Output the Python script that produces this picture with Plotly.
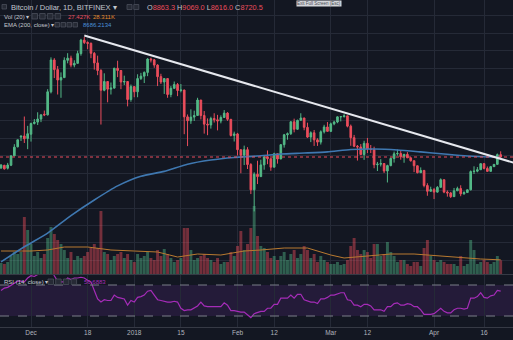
import math
import pandas as pd
import plotly.graph_objects as go

W, H = 513, 340

# ---- daily bars, BTC/USD (Bitfinex), 22 Nov 2017 .. 21 Apr 2018 ----
dates = pd.date_range("2017-11-22", "2018-04-21", freq="D")

opens = [8077, 8233, 8074, 8241, 8789, 9352, 10000, 10078, 9907, 10198,
         10978, 11083, 11316, 11700, 11650, 13650, 16990, 15900, 14800, 15050,
         16950, 17200, 16400, 16600, 17750, 19480, 19150, 19050, 17780, 16650,
         15800, 13800, 14650, 13900, 14000, 16050, 15800, 14600, 14650, 12950,
         14150, 13650, 14950, 15200, 15600, 17100, 17000, 16400, 15150, 14600,
         14950, 13400, 13980, 14350, 13770, 13820, 11490, 11190, 11470, 11600,
         12900, 11600, 10930, 10870, 11360, 11260, 11170, 11440, 11790, 11300,
         10110, 10220, 9170, 8830, 9170, 8280, 6960, 7750, 7620, 8260,
         8730, 8620, 8130, 8920, 8600, 9490, 10160, 10230, 11110, 10550,
         11220, 11400, 10690, 10000, 10300, 9810, 9660, 10370, 10720, 10400,
         10950, 11090, 11490, 11510, 11570, 10780, 9960, 9390, 9340, 8870,
         9580, 9210, 9190, 8270, 8300, 8340, 7920, 8220, 8630, 8910,
         8930, 8730, 8880, 8670, 8500, 8210, 7830, 7950, 7170, 6890,
         6970, 6850, 7080, 7460, 6850, 6810, 6640, 6910, 7020, 6770,
         6830, 6960, 7890, 7910, 7990, 8330, 8060, 7900, 8160, 8290,
         8863.3]
highs = [8302, 8268, 8374, 8790, 9523, 9818, 10125, 11517, 10801, 11046,
         11320, 11858, 11657, 12000, 13900, 17300, 17200, 16300, 15600, 17300,
         17800, 17500, 16950, 18100, 19650, 19891, 19300, 19150, 17950, 17500,
         15950, 15500, 14700, 14550, 16100, 16900, 15850, 15250, 14700, 14350,
         14150, 15400, 15550, 15700, 17200, 17250, 17100, 16500, 15450, 14950,
         15000, 14200, 14650, 14500, 14400, 13840, 11680, 12100, 11990, 13100,
         12900, 11960, 11370, 11500, 11780, 11650, 11610, 12040, 11870, 11300,
         10380, 10290, 9170, 9430, 9330, 8360, 7850, 8500, 8560, 8740,
         9120, 8620, 8980, 8930, 9520, 10220, 10320, 11140, 11350, 11270,
         11780, 11420, 11040, 10400, 10500, 9920, 10470, 10880, 11090, 11050,
         11190, 11530, 11510, 11700, 11570, 10900, 10150, 9470, 9530, 9750,
         9940, 9470, 9360, 8430, 8590, 8350, 8270, 8680, 9050, 9180,
         9100, 8910, 9020, 8680, 8500, 8220, 8120, 7980, 7280, 7110,
         7050, 7140, 7530, 7470, 6930, 6860, 7050, 7110, 7180, 6890,
         6970, 7950, 8180, 8140, 8340, 8370, 8170, 8200, 8300, 8930,
         9069.0]
lows = [8075, 8000, 8005, 8191, 8789, 9317, 9736, 9601, 9202, 9694,
        10905, 10863, 11082, 11550, 11600, 13500, 15000, 13400, 13100, 15000,
        16600, 16150, 16150, 16550, 17500, 18950, 18300, 17200, 15900, 15300,
        10900, 13700, 12700, 13400, 13950, 15100, 13900, 14300, 12350, 12750,
        13150, 13150, 14800, 14500, 15200, 16700, 16100, 14200, 14400, 13450,
        13100, 13150, 13950, 13250, 13600, 10200, 9400, 10950, 11170, 11600,
        11290, 10240, 10130, 10600, 11050, 10470, 10990, 11440, 11180, 10040,
        9700, 8810, 7800, 8250, 8030, 6760, 6000, 7240, 7620, 7990,
        8300, 7930, 8130, 8330, 8600, 9300, 9820, 10150, 10330, 10510,
        11220, 10480, 9940, 9660, 9410, 9410, 9500, 10250, 10390, 10350,
        10850, 11000, 11140, 11440, 10690, 9420, 9330, 8510, 8830, 8550,
        8960, 8960, 8070, 7920, 8170, 7810, 7320, 8180, 8390, 8800,
        8560, 8380, 8660, 8450, 7860, 7790, 7810, 7080, 6680, 6880,
        6530, 6820, 7070, 6800, 6640, 6580, 6630, 6910, 6660, 6730,
        6820, 6930, 7760, 7850, 7990, 8010, 7880, 7890, 8140, 8270,
        8616.0]
closes = [8254, 8038, 8253, 8790, 9330, 9818, 10058, 9888, 10233, 10975,
          11074, 11323, 11657, 11650, 13650, 16990, 15900, 14800, 15050, 16950,
          17200, 16400, 16600, 17750, 19480, 19150, 19050, 17780, 16650, 15800,
          13800, 14650, 13900, 14000, 16050, 15800, 14600, 14650, 12950, 14150,
          13650, 14950, 15200, 15600, 17100, 17000, 16400, 15150, 14600, 14950,
          13400, 13980, 14350, 13770, 13820, 11490, 11190, 11470, 11600, 12900,
          11600, 10930, 10870, 11360, 11260, 11170, 11440, 11790, 11300, 10110,
          10220, 9170, 8830, 9170, 8280, 6960, 7750, 7620, 8260, 8730,
          8620, 8130, 8920, 8600, 9490, 10160, 10230, 11110, 10550, 11220,
          11400, 10690, 10000, 10300, 9810, 9660, 10370, 10720, 10400, 10950,
          11090, 11490, 11510, 11570, 10780, 9960, 9390, 9340, 8870, 9580,
          9210, 9190, 8270, 8300, 8340, 7920, 8220, 8630, 8910, 8930,
          8730, 8880, 8670, 8500, 8210, 7830, 7950, 7170, 6890, 6970,
          6850, 7080, 7460, 6850, 6810, 6640, 6910, 7020, 6770, 6830,
          6960, 7890, 7910, 7990, 8330, 8060, 7900, 8160, 8290, 8863.3,
          8720.5]

# volume in thousands of BTC
volumes_k = [22, 20, 24, 36, 44, 40, 44, 114, 88, 60,
             36, 44, 32, 40, 72, 94, 80, 68, 60, 48,
             32, 44, 28, 36, 32, 36, 44, 52, 60, 52,
             126, 44, 40, 28, 36, 40, 44, 32, 40, 28,
             24, 40, 32, 36, 44, 32, 28, 48, 36, 50,
             40, 32, 24, 28, 32, 92, 92, 48, 28, 32,
             36, 40, 32, 28, 24, 32, 20, 24, 24, 44,
             36, 56, 86, 48, 60, 92, 136, 76, 56, 52,
             44, 32, 36, 28, 36, 44, 28, 40, 48, 32,
             40, 56, 48, 32, 40, 24, 36, 28, 24, 20,
             20, 24, 18, 20, 28, 56, 72, 48, 40, 48,
             44, 32, 60, 60, 36, 40, 64, 44, 36, 24,
             28, 28, 20, 16, 24, 24, 16, 52, 68, 36,
             28, 24, 28, 24, 20, 20, 20, 16, 36, 16,
             20, 68, 48, 20, 24, 28, 24, 20, 24, 36,
             27.427]

# Vol (20) moving average, thousands of BTC
vol_ma_dates = ["2017-11-22", "2017-12-01", "2017-12-06", "2017-12-11", "2017-12-18",
                "2017-12-25", "2018-01-01", "2018-01-08", "2018-01-14", "2018-01-20",
                "2018-01-27", "2018-02-03", "2018-02-08", "2018-02-15", "2018-02-22",
                "2018-03-01", "2018-03-05", "2018-03-12", "2018-03-19", "2018-03-26",
                "2018-04-02", "2018-04-09", "2018-04-15", "2018-04-21"]
vol_ma_k = [46, 46, 48, 54, 54, 48, 46, 44, 34, 40, 38, 46, 48, 52, 52,
            38, 32, 36, 40, 40, 36, 32, 30, 28.311]

# EMA (200, close)
ema_dates = ["2017-11-22", "2017-11-29", "2017-12-06", "2017-12-13", "2017-12-20",
             "2017-12-27", "2018-01-03", "2018-01-10", "2018-01-17", "2018-01-24",
             "2018-01-31", "2018-02-07", "2018-02-14", "2018-02-21", "2018-02-28",
             "2018-03-07", "2018-03-14", "2018-03-21", "2018-03-28", "2018-04-04",
             "2018-04-11", "2018-04-18", "2018-04-21"]
ema_vals = [4240, 4705, 5170, 5830, 6490, 7150, 7640, 7900, 8300, 8540,
            8690, 8780, 8900, 8960, 9030, 9180, 9210, 9150, 9030, 8900,
            8780, 8720, 8686.2134]

# RSI (14, close)
rsi_vals = [63, 66, 67, 70, 73, 75, 75, 74, 79, 82,
            81, 84, 86, 87, 90, 92, 82, 75, 74, 74,
            79, 77, 79, 79, 80, 79, 76, 74, 63, 52,
            48, 51, 50, 50, 57, 54, 53, 52, 44, 50,
            48, 54, 55, 57, 62, 63, 57, 51, 50, 49,
            48, 48, 49, 48, 40, 37, 38, 38, 41, 43,
            48, 43, 42, 42, 42, 42, 42, 47, 44, 37,
            37, 36, 35, 35, 32, 28, 33, 35, 36, 36,
            40, 40, 45, 45, 53, 53, 53, 57, 53, 58,
            58, 51, 50, 48, 48, 46, 52, 52, 54, 57,
            57, 59, 60, 60, 51, 50, 44, 44, 42, 45,
            45, 43, 38, 38, 38, 36, 42, 42, 46, 47,
            44, 44, 46, 45, 42, 42, 38, 32, 32, 32,
            33, 36, 40, 36, 34, 34, 38, 40, 40, 39,
            40, 53, 53, 55, 60, 54, 53, 56, 57, 63,
            62]
rsi_upper, rsi_lower = 70, 30

# drawn trend line (anchored on the December high)
trend_dates = ["2017-12-17", "2018-04-25"]
trend_prices = [20100, 8380]

# horizontal price grid levels
grid_prices = [4282, 4829, 5446, 6142, 6927, 7812, 8810, 9936, 11206,
               12638, 14253, 16074, 18128, 20445, 23058]

tick_dates = ["2017-12-01", "2017-12-18", "2018-01-01", "2018-01-15", "2018-02-01",
              "2018-02-12", "2018-03-01", "2018-03-12", "2018-04-01", "2018-04-16"]
tick_labels = ["Dec", "18", "2018", "15", "Feb", "12", "Mar", "12", "Apr", "16"]

# ---- styling ----
BG = "#131722"
GRID = "#252a37"
UP = "#53b987"
DOWN = "#eb4d5c"
TXT = "#c3c6ce"
FONT = "Liberation Sans, Arial, sans-serif"
EMA_C = "#3f78b1"
MA_C = "#b97a30"
RSI_C = "#a52cb8"

x_range = ["2017-11-21 16:40", "2018-04-24 16:48"]
price_range = [math.log10(3902), math.log10(25655)]
main_dom = [(H - 274) / H, 1.0]
rsi_dom = [(H - 327) / H, (H - 275) / H]

vol_colors = ["rgba(83,185,135,0.45)" if c >= o else "rgba(235,77,92,0.45)"
              for o, c in zip(opens, closes)]

fig = go.Figure()

# volume on the base axis of the main pane
fig.add_trace(go.Bar(x=dates, y=volumes_k, marker=dict(color=vol_colors, line=dict(width=0)),
                     xaxis="x", yaxis="y", hoverinfo="skip"))
fig.add_trace(go.Scatter(x=pd.to_datetime(vol_ma_dates), y=vol_ma_k, mode="lines",
                         line=dict(color=MA_C, width=1), xaxis="x", yaxis="y"))

# price elements on the log axis overlaid on top
fig.add_trace(go.Scatter(x=pd.to_datetime(ema_dates), y=ema_vals, mode="lines",
                         line=dict(color=EMA_C, width=1.6, shape="spline", smoothing=0.6),
                         xaxis="x", yaxis="y2"))
fig.add_trace(go.Scatter(x=pd.to_datetime(x_range), y=[closes[-1], closes[-1]], mode="lines",
                         line=dict(color=DOWN, width=1, dash="dot"), xaxis="x", yaxis="y2"))
fig.add_trace(go.Candlestick(x=dates, open=opens, high=highs, low=lows, close=closes,
                             increasing=dict(line=dict(color=UP, width=1), fillcolor=UP),
                             decreasing=dict(line=dict(color=DOWN, width=1), fillcolor=DOWN),
                             whiskerwidth=0, xaxis="x", yaxis="y2"))
fig.add_trace(go.Scatter(x=pd.to_datetime(trend_dates), y=trend_prices, mode="lines",
                         line=dict(color="#e6e8ee", width=2), xaxis="x", yaxis="y2"))

# RSI pane
fig.add_trace(go.Scatter(x=dates, y=rsi_vals, mode="lines",
                         line=dict(color=RSI_C, width=1.2), xaxis="x2", yaxis="y3"))

shapes = [
    dict(type="rect", xref="paper", yref="y3", x0=0, x1=1, y0=rsi_lower, y1=rsi_upper,
         fillcolor="rgba(140,60,200,0.14)", line=dict(width=0), layer="below"),
    dict(type="line", xref="paper", yref="y3", x0=0, x1=1, y0=rsi_upper, y1=rsi_upper,
         line=dict(color="#7b7e89", width=1, dash="dash")),
    dict(type="line", xref="paper", yref="y3", x0=0, x1=1, y0=rsi_lower, y1=rsi_lower,
         line=dict(color="#7b7e89", width=1, dash="dash")),
    # pane separators
    dict(type="line", xref="paper", yref="paper", x0=0, x1=1,
         y0=(H - 274.5) / H, y1=(H - 274.5) / H, line=dict(color="#363a45", width=1)),
    dict(type="line", xref="paper", yref="paper", x0=0, x1=1,
         y0=(H - 327.5) / H, y1=(H - 327.5) / H, line=dict(color="#363a45", width=1)),
]


def icon_row(x0, y0, n, size=5.0, gap=1.8):
    out = []
    for k in range(n):
        xa = x0 + k * (size + gap)
        out.append(dict(type="rect", xref="paper", yref="paper",
                        x0=xa / W, x1=(xa + size) / W,
                        y0=1 - (y0 + size) / H, y1=1 - y0 / H,
                        fillcolor="#262a35", line=dict(color="#4a4e5a", width=0.8)))
    return out


shapes += icon_row(2, 4.5, 1, size=4.5)
shapes += icon_row(127, 4.5, 2)
shapes += icon_row(32, 13.5, 4, size=5.5, gap=2.2)
shapes += icon_row(55, 22.5, 4, size=4.5, gap=1.5)
shapes += icon_row(48, 279, 4, size=5.5, gap=2.2)


def note(text, x, y, color=TXT, size=6.0):
    return dict(text=text, x=x / W, y=1 - y / H, xref="paper", yref="paper",
                xanchor="left", yanchor="middle", showarrow=False,
                font=dict(color=color, size=size, family=FONT))


def red(s):
    return f"<span style='color:{DOWN}'>{s}</span>"


annotations = [
    note("Bitcoin / Dollar, 1D, BITFINEX ▾", 9, 7, size=7.5),
    note(f"O{red('8863.3')} H{red('9069.0')} L{red('8616.0')} C{red('8720.5')}", 145, 7, size=7.3),
    note("Vol (20) ▾", 2, 16.5),
    note("27.427K", 66, 16.5, color=DOWN),
    note("28.311K", 91, 16.5, color="#e38b2c"),
    note("EMA (200, close) ▾", 2, 25.5),
    note("8686.2134", 81, 25.5, color="#4a90d9"),
    note("RSI (14, close) ▾", 2, 282),
    note("56.6883", 82, 282, color=RSI_C),
    dict(text="Exit Full Screen (Esc)", x=319 / W, y=1.0, xref="paper", yref="paper",
         xanchor="center", yanchor="top", showarrow=False, bgcolor="#d3d5da",
         font=dict(color="#4a4d55", size=4.5, family=FONT), borderpad=0),
]

grid_axis = dict(showgrid=True, gridcolor=GRID, gridwidth=1, zeroline=False,
                 showline=False, ticks="")

fig.update_layout(
    width=W, height=H,
    margin=dict(l=0, r=0, t=0, b=0),
    paper_bgcolor=BG, plot_bgcolor=BG,
    showlegend=False,
    bargap=0.12,
    xaxis=dict(domain=[0, 1], anchor="y", type="date", range=x_range,
               tickvals=pd.to_datetime(tick_dates), showticklabels=False,
               rangeslider=dict(visible=False), **grid_axis),
    yaxis=dict(domain=main_dom, range=[0, 548], visible=False, showgrid=False),
    yaxis2=dict(overlaying="y", type="log", range=price_range, tickvals=grid_prices,
                showticklabels=False, side="right", **grid_axis),
    xaxis2=dict(domain=[0, 1], anchor="y3", type="date", range=x_range,
                tickvals=pd.to_datetime(tick_dates), ticktext=tick_labels,
                tickfont=dict(color="#b2b5be", size=6.5, family=FONT), **grid_axis),
    yaxis3=dict(domain=rsi_dom, range=[15.8, 82.9], showgrid=False, zeroline=False,
                showticklabels=False, ticks=""),
    shapes=shapes,
    annotations=annotations,
)

fig.write_html("out.html")
